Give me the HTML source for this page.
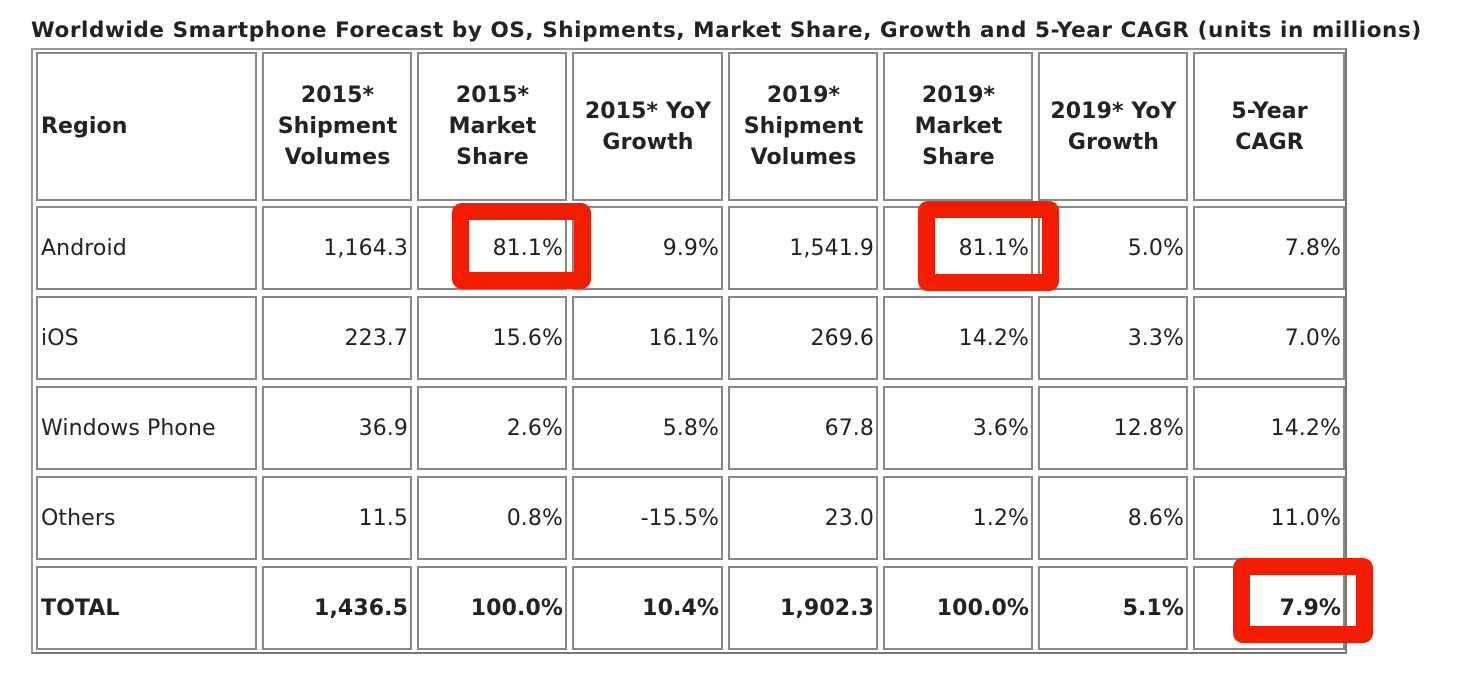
<!DOCTYPE html><html><head><style>
body{margin:0;width:1458px;height:700px;background:#fff;position:relative;overflow:hidden;font-family:"DejaVu Sans","Liberation Sans",sans-serif;color:#222}
.t{position:absolute;left:31px;top:31px;font-weight:bold;font-size:21.5px;white-space:nowrap;letter-spacing:0.58px;line-height:1;transform:translateY(-11px)}
.o{position:absolute;left:31px;top:48px;width:1316px;height:606px;border:2px solid #999;border-right-color:#777;border-bottom-color:#777;box-sizing:border-box}
.c{position:absolute;border:2px solid #888;box-sizing:border-box;display:flex;align-items:center;font-size:22px;padding:0 2px 0 3px;white-space:nowrap;letter-spacing:0.1px}
.r{justify-content:flex-end}.h{justify-content:center;text-align:center;font-weight:bold;line-height:31px}
.b{font-weight:bold}
.x{position:absolute;border:17px solid #f21d00;border-radius:10px;box-sizing:border-box}
</style></head><body>
<div class="t">Worldwide Smartphone Forecast by OS, Shipments, Market Share, Growth and 5-Year CAGR (units in millions)</div>
<div class="o"></div>
<div id="g"></div>
<script>
var L=[36,262,417,572,728,883,1038,1193],R=[257,412,567,723,878,1033,1188,1345];
var T=[52,206,296,386,476,566],B=[201,290,380,470,560,650];
var H=["Region","2015*<br>Shipment<br>Volumes","2015*<br>Market<br>Share","2015* YoY<br>Growth","2019*<br>Shipment<br>Volumes","2019*<br>Market<br>Share","2019* YoY<br>Growth","5-Year<br>CAGR"];
var D=[["Android","1,164.3","81.1%","9.9%","1,541.9","81.1%","5.0%","7.8%"],
["iOS","223.7","15.6%","16.1%","269.6","14.2%","3.3%","7.0%"],
["Windows Phone","36.9","2.6%","5.8%","67.8","3.6%","12.8%","14.2%"],
["Others","11.5","0.8%","-15.5%","23.0","1.2%","8.6%","11.0%"],
["TOTAL","1,436.5","100.0%","10.4%","1,902.3","100.0%","5.1%","7.9%"]];
var s="";
for(var r=0;r<6;r++)for(var c=0;c<8;c++){
 var cls="c",txt;
 if(r==0){txt=H[c];cls+=c==0?" b":" h";}
 else{txt=D[r-1][c];if(c>0)cls+=" r";if(r==5)cls+=" b";}
 s+='<div class="'+cls+'" style="left:'+L[c]+'px;top:'+T[r]+'px;width:'+(R[c]-L[c])+'px;height:'+(B[r]-T[r])+'px">'+txt+'</div>';
}
s+='<div class="x" style="left:452px;top:203px;width:139px;height:86px"></div>';
s+='<div class="x" style="left:918px;top:201px;width:141px;height:90px"></div>';
s+='<div class="x" style="left:1233px;top:558px;width:140px;height:85px"></div>';
document.getElementById("g").innerHTML=s;
</script>
</body></html>
